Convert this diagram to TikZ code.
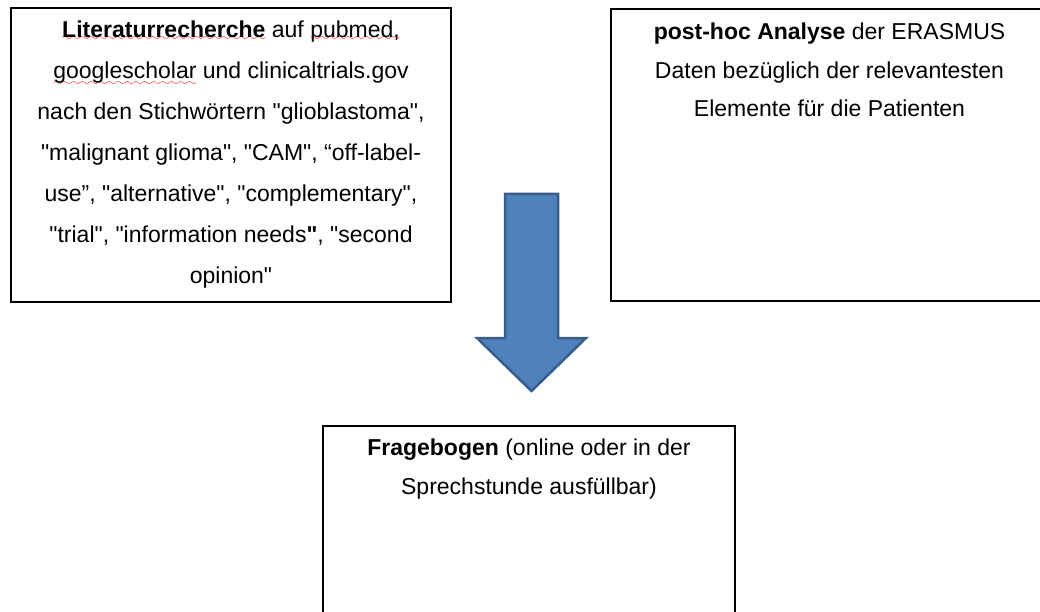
\documentclass[tikz,border=0pt]{standalone}
\usepackage{fontspec}
\setmainfont{Liberation Sans}[Ligatures=TeXOff]
\usetikzlibrary{positioning}
\definecolor{arrowfill}{HTML}{4F81BD}
\definecolor{arrowline}{HTML}{385D8A}
% red spell-check wave under a word
\font\wavefont=lasy6 scaled 1700\relax
\newcommand\spellerr[2][4pt]{\setbox0=\hbox{#2}%
  \rlap{\lower#1\hbox to\wd0{\color{red}\xleaders\hbox{\wavefont\char58}\hfill}}\box0\relax}

\begin{document}
\begin{tikzpicture}[x=1pt,y=-1pt,
  box/.style={draw,line width=1.8pt,rectangle,inner sep=0pt,outer sep=0pt,anchor=north west},
  txt/.style={align=center,inner sep=0pt,anchor=north,font=\fontsize{23}{38.5}\selectfont},
  blockarrow/.style={draw=arrowline,fill=arrowfill,line width=2.5pt,line join=miter}]
  \useasboundingbox (0,0) rectangle (1040,612);
  \clip (0,0) rectangle (1040,612);

  \node[box,minimum width=440pt,minimum height=294pt] (lit) at (11,8) {};
  \node[box,minimum width=437pt,minimum height=292pt] (posthoc) [right=160pt of lit] {};
  \node[box,minimum width=412pt,minimum height=230pt] (frage) at (323,426) {};

  \node[txt,font=\fontsize{23}{41}\selectfont] (littxt) [below=13pt of lit.north] {%
    \spellerr[3pt]{\bfseries Literaturrecherche} auf \spellerr[3pt]{pubmed,}\\
    \spellerr[7pt]{googlescholar} und clinicaltrials.gov\\
    nach den Stichwörtern "glioblastoma",\\
    "malignant glioma", "CAM", “off-label-\\
    use”, "alternative", "complementary",\\
    "trial", "information needs\textbf{"}, "second\\
    opinion"};
  \node[txt] (posthoctxt) [below=14pt of posthoc.north] {%
    \textbf{post-hoc Analyse} der ERASMUS\\
    Daten bezüglich der relevantesten\\
    Elemente für die Patienten};
  \node[txt] (fragetxt) [below=13pt of frage.north] {%
    \textbf{Fragebogen} (online oder in der\\
    Sprechstunde ausfüllbar)};

  % block arrow between the rows
  \draw[blockarrow] (505,194) -- (558,194) -- (558,338) -- (586,338)
    -- (531.5,391) -- (477,338) -- (505,338) -- cycle;
\end{tikzpicture}
\end{document}
